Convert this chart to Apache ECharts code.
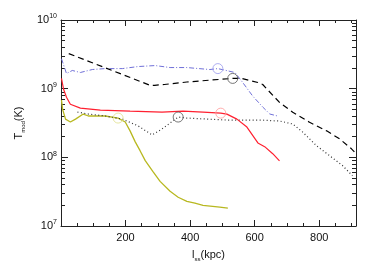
<!DOCTYPE html>
<html><head><meta charset="utf-8">
<script src="https://cdn.jsdelivr.net/npm/echarts@6/dist/echarts.min.js"></script>
<style>html,body{margin:0;padding:0;background:#fff}#c{width:374px;height:267px}</style>
</head><body><div id="c"></div>
<script>
// Data (x in kpc, T in K)
const dashedX = [24, 276, 290, 320, 390, 460, 532, 560, 610, 625, 677, 718, 770, 823, 863, 900, 909];
const dashedY = [3.24e9, 1.12e9, 1.12e9, 1.15e9, 1.25e9, 1.33e9, 1.41e9, 1.41e9, 1.23e9, 1.15e9, 6.3e8, 4.55e8, 3.24e8, 2.43e8, 1.86e8, 1.33e8, 1.2e8];
const dashDotX = [1.5, 17, 35, 60, 97, 137, 190, 239, 292, 338, 390, 461, 486, 539, 563, 594, 625, 647, 671];
const dashDotY = [2.73e9, 1.66e9, 1.84e9, 1.72e9, 1.90e9, 1.96e9, 1.96e9, 2.1e9, 2.17e9, 2.03e9, 2.03e9, 1.9e9, 1.96e9, 1.72e9, 1.23e9, 7.8e8, 5.4e8, 4.27e8, 4.0e8];
const redX = [1.5, 8, 17, 29, 60, 122, 214, 313, 378, 440, 495, 514, 545, 576, 610, 631, 656, 677];
const redY = [1.41e9, 9.8e8, 7.5e8, 5.94e8, 5.2e8, 4.87e8, 4.7e8, 4.56e8, 4.7e8, 4.56e8, 4.4e8, 4.26e8, 3.6e8, 2.76e8, 1.62e8, 1.43e8, 1.13e8, 8.9e7];
const dottedX = [51, 85, 137, 190, 239, 282, 313, 363, 390, 514, 616, 677, 718, 748, 792, 832, 872, 903];
const dottedY = [4.56e8, 4.27e8, 4.0e8, 3.6e8, 2.87e8, 2.12e8, 2.59e8, 3.86e8, 3.73e8, 3.49e8, 3.49e8, 3.38e8, 3.06e8, 2.35e8, 1.47e8, 1.06e8, 7.6e7, 5.4e7];
const yellowX = [1.5, 5, 14, 29, 45, 69, 85, 137, 177, 199, 214, 230, 245, 261, 285, 307, 338, 363, 390, 415, 440, 492, 517];
const yellowY = [6.8e8, 5.0e8, 3.6e8, 3.27e8, 3.6e8, 4.27e8, 4.0e8, 4.0e8, 3.73e8, 3.27e8, 2.43e8, 1.68e8, 1.25e8, 8.95e7, 6.2e7, 4.46e7, 3.2e7, 2.62e7, 2.29e7, 2.15e7, 2.0e7, 1.88e7, 1.82e7];
// circle markers: [dashed, dashDot, red, dotted, yellow]
const circleX = [532, 486, 495, 363, 177];
const circleY = [1.41e9, 1.96e9, 4.4e8, 3.86e8, 3.73e8];
const circleColors = ['#555555', '#9a9aee', '#ff9a9a', '#555555', '#e0e08a'];
const xMajorTicks = [200, 400, 600, 800];
const xMinorTicks = [50, 100, 150, 200, 250, 300, 350, 400, 450, 500, 550, 600, 650, 700, 750, 800, 850, 900];
const yMajorTicks = [1e7, 1e8, 1e9, 1e10];
const yMinorTicks = [];
[1e7, 1e8, 1e9].forEach(d => { for (let k = 2; k <= 9; k++) yMinorTicks.push(k * d); });

const zip = (xs, ys) => xs.map((x, i) => [x, ys[i]]);
const FONT = 'Liberation Sans';
const AX = '#222';

function xAx(pos, major, showLine, showLabel) {
  return {
    type: 'value', position: pos, min: 0, max: 914,
    axisLine: { show: showLine, onZero: false, lineStyle: { color: AX, width: 1 } },
    axisTick: { show: true, inside: true, length: major ? 6 : 3, customValues: major ? xMajorTicks : xMinorTicks, lineStyle: { color: AX } },
    axisLabel: showLabel ? { show: true, customValues: xMajorTicks, color: '#111', fontFamily: FONT, fontSize: 11, margin: 6 } : { show: false },
    splitLine: { show: false },
    name: showLabel ? '{t|l}{s|ss}{t|(kpc)}' : '',
    nameLocation: 'middle', nameGap: 22,
    nameTextStyle: { rich: { t: { fontFamily: FONT, fontSize: 11, color: '#111', lineHeight: 14 }, s: { fontFamily: FONT, fontSize: 6, color: '#111', lineHeight: 14, verticalAlign: 'bottom', padding: [4, 0, 0, 0] } } }
  };
}
function yAx(pos, major, showLine, showLabel) {
  return {
    type: 'log', logBase: 10, position: pos, min: 1e7, max: 1e10,
    axisLine: { show: showLine, onZero: false, lineStyle: { color: AX, width: 1 } },
    axisTick: { show: true, inside: true, length: major ? 7 : 4, customValues: major ? yMajorTicks : yMinorTicks, lineStyle: { color: AX } },
    axisLabel: showLabel ? {
      show: true, customValues: yMajorTicks, margin: 4,
      formatter: v => '{b|10}{s|' + Math.round(Math.log10(v)) + '}',
      rich: { b: { fontFamily: FONT, fontSize: 11, color: '#111', lineHeight: 14 }, s: { fontFamily: FONT, fontSize: 7, color: '#111', lineHeight: 14, verticalAlign: 'top', padding: [0, 0, 6, 0] } }
    } : { show: false },
    splitLine: { show: false },
    name: showLabel ? '{t|T}{s|mod}{t|(K)}' : '',
    nameLocation: 'middle', nameGap: 34, nameRotate: 90,
    nameTextStyle: { rich: { t: { fontFamily: FONT, fontSize: 11, color: '#111', lineHeight: 14 }, s: { fontFamily: FONT, fontSize: 6, color: '#111', lineHeight: 14, verticalAlign: 'bottom', padding: [4, 0, 0, 0] } } }
  };
}

const lineSeries = (data, color, width, type) => ({
  type: 'line', data: data, showSymbol: false, symbol: 'none', smooth: false,
  lineStyle: { color: color, width: width, type: type }, xAxisIndex: 0, yAxisIndex: 0, z: 3
});

const chart = echarts.init(document.getElementById('c'), null, { renderer: 'canvas' });
chart.setOption({
  animation: false,
  backgroundColor: '#fff',
  grid: { left: 61, top: 20, right: 18, bottom: 39, containLabel: false },
  xAxis: [xAx('bottom', true, true, true), xAx('bottom', false, false, false), xAx('top', true, true, false), xAx('top', false, false, false)],
  yAxis: [yAx('left', true, true, true), yAx('left', false, false, false), yAx('right', true, true, false), yAx('right', false, false, false)],
  series: [
    lineSeries(zip(yellowX, yellowY), '#b8b820', 1.3, 'solid'),
    lineSeries(zip(dottedX, dottedY), '#333333', 1.2, [1, 2.5]),
    lineSeries(zip(redX, redY), '#ff2030', 1.2, 'solid'),
    lineSeries(zip(dashDotX, dashDotY), '#7070d8', 1, [5, 2, 1, 2]),
    lineSeries(zip(dashedX, dashedY), '#000000', 1.2, [6, 4]),
    {
      type: 'scatter', xAxisIndex: 0, yAxisIndex: 0, symbol: 'circle', symbolSize: 10, z: 4,
      data: circleX.map((x, i) => ({ value: [x, circleY[i]], itemStyle: { color: 'rgba(0,0,0,0)', borderColor: circleColors[i], borderWidth: 1 } }))
    }
  ]
});
</script></body></html>
